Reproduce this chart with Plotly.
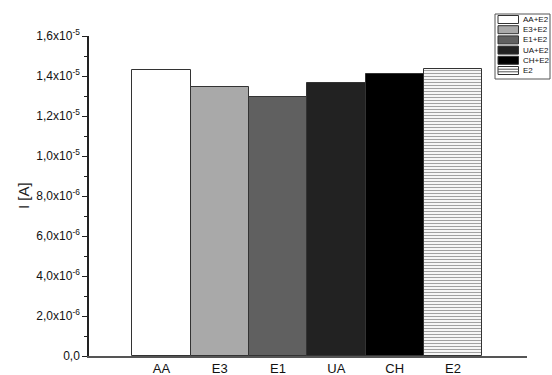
import plotly.graph_objects as go

categories = ["AA", "E3", "E1", "UA", "CH", "E2"]
values = [1.428e-5, 1.345e-5, 1.293e-5, 1.363e-5, 1.408e-5, 1.433e-5]
legend_labels = ["AA+E2", "E3+E2", "E1+E2", "UA+E2", "CH+E2", "E2"]
bar_colors = ["#ffffff", "#a9a9a9", "#606060", "#222222", "#000000", "#ffffff"]
patterns = ["", "", "", "", "", "-"]
ytick_vals = [0, 2e-6, 4e-6, 6e-6, 8e-6, 1.0e-5, 1.2e-5, 1.4e-5, 1.6e-5]
ytick_text = ["0,0", "2,0x10<sup>-6</sup>", "4,0x10<sup>-6</sup>", "6,0x10<sup>-6</sup>",
              "8,0x10<sup>-6</sup>", "1,0x10<sup>-5</sup>", "1,2x10<sup>-5</sup>",
              "1,4x10<sup>-5</sup>", "1,6x10<sup>-5</sup>"]

W, H = 552, 375
L, R, T, B = 89, 25, 36, 19
PW, PH = W - L - R, H - T - B


def px(x):
    return (x - L) / PW


def py(y):
    return (H - B - y) / PH


fig = go.Figure()
fig.add_trace(go.Bar(
    x=categories, y=values, width=1,
    marker=dict(color=bar_colors, line=dict(color="#333333", width=1),
                pattern=dict(shape=patterns, size=3, solidity=0.4, fgcolor="#555555",
                             bgcolor="#ffffff")),
    showlegend=False,
))

shapes = []
annotations = []
# legend box
shapes.append(dict(type="rect", xref="paper", yref="paper",
                   x0=px(495), x1=px(550), y0=py(79), y1=py(14),
                   line=dict(color="#555555", width=1), fillcolor="white"))
row0, step = 19.5, 10.2
for i, lab in enumerate(legend_labels):
    cy = row0 + i * step
    shapes.append(dict(type="rect", xref="paper", yref="paper",
                       x0=px(498), x1=px(518.5), y0=py(cy + 4), y1=py(cy - 4),
                       line=dict(color="#333333", width=1), fillcolor=bar_colors[i]))
    if patterns[i] == "-":
        for dy in (-1.3, 1.3):
            shapes.append(dict(type="line", xref="paper", yref="paper",
                               x0=px(498), x1=px(518.5), y0=py(cy + dy), y1=py(cy + dy),
                               line=dict(color="#555555", width=1)))
    annotations.append(dict(xref="paper", yref="paper", x=px(520.5), y=py(cy),
                            text=lab, showarrow=False, xanchor="left", yanchor="middle",
                            font=dict(size=8, color="#111111")))

annotations.append(dict(xref="paper", yref="paper", x=px(23), y=py(196),
                        text="I [A]", textangle=-90, showarrow=False,
                        xanchor="center", yanchor="middle",
                        font=dict(size=15, color="#222222")))

fig.update_layout(
    width=W, height=H,
    margin=dict(l=L, r=R, t=T, b=B, pad=0),
    paper_bgcolor="white", plot_bgcolor="white",
    font=dict(family="Liberation Sans, Arial, sans-serif", color="#222222"),
    bargap=0,
    shapes=shapes,
    annotations=annotations,
    xaxis=dict(range=[-1.243, 6.27], showline=True, linecolor="#555555", linewidth=1.5,
               ticks="", showgrid=False, zeroline=False, automargin=False,
               tickfont=dict(size=13, color="#111111"), fixedrange=True),
    yaxis=dict(range=[0, 1.6e-5], tickvals=ytick_vals, ticktext=ytick_text,
               showline=True, linecolor="#222222", linewidth=1.5,
               ticks="outside", ticklen=5, tickwidth=1.3, tickcolor="#222222",
               minor=dict(ticks="outside", ticklen=3, tickwidth=1, tickcolor="#222222",
                          dtick=1e-6, showgrid=False),
               showgrid=False, zeroline=False, automargin=False,
               tickfont=dict(size=12, color="#111111"), fixedrange=True),
)

fig.write_html("out.html", config={"displayModeBar": False},
               post_script="document.body.style.margin='0';")
